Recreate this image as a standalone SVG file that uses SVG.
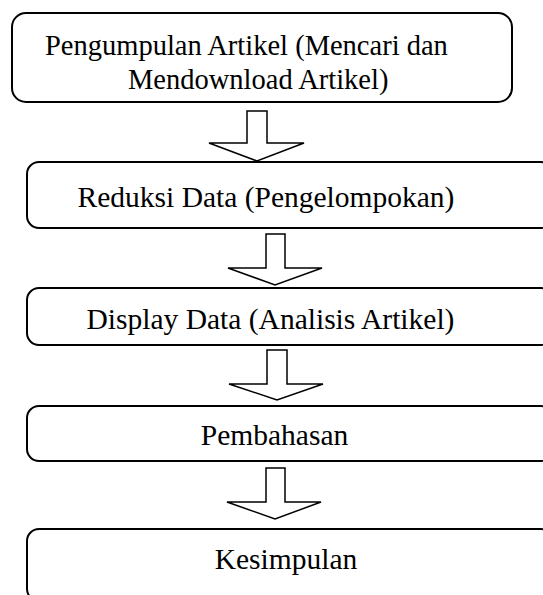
<svg xmlns="http://www.w3.org/2000/svg" width="543" height="595" viewBox="0 0 543 595">
<style>
.box{fill:#fff;stroke:#000;stroke-width:2}
.arr{fill:#fff;stroke:#000;stroke-width:1.5;stroke-linejoin:miter}
text{font-family:"Liberation Serif","Times New Roman",serif;font-size:29.5px;fill:#000;text-anchor:middle}
.t1{font-size:28.5px;text-anchor:start}
</style>
<rect width="543" height="595" fill="#fff"/>
<g id="n1">
<rect class="box" x="12" y="13" width="500" height="89" rx="14"/>
<text class="t1" x="45" y="55">Pengumpulan Artikel (Mencari dan</text>
<text class="t1" x="128" y="89">Mendownload Artikel)</text>
</g>
<g id="n2">
<rect class="box" x="27" y="162" width="526" height="66" rx="12"/>
<text x="266" y="207">Reduksi Data (Pengelompokan)</text>
</g>
<g id="n3">
<rect class="box" x="27" y="288" width="526" height="57" rx="12"/>
<text x="270.5" y="329">Display Data (Analisis Artikel)</text>
</g>
<g id="n4">
<rect class="box" x="27" y="406" width="526" height="55" rx="12"/>
<text x="274.5" y="445">Pembahasan</text>
</g>
<g id="n5">
<rect class="box" x="27" y="529" width="526" height="72" rx="12"/>
<text x="286" y="569">Kesimpulan</text>
</g>
<g id="connectors">
<path class="arr" d="M247,111 H267 V143 H304 L257,161 L209,143 H247 Z"/>
<path class="arr" d="M266,234 H285 V268 H322 L275,285 L228,268 H266 Z"/>
<path class="arr" d="M267,350 H287 V384 H323 L277,400 L229,384 H267 Z"/>
<path class="arr" d="M266,468 H285 V502 H321 L275,519 L227,502 H266 Z"/>
</g>
</svg>
